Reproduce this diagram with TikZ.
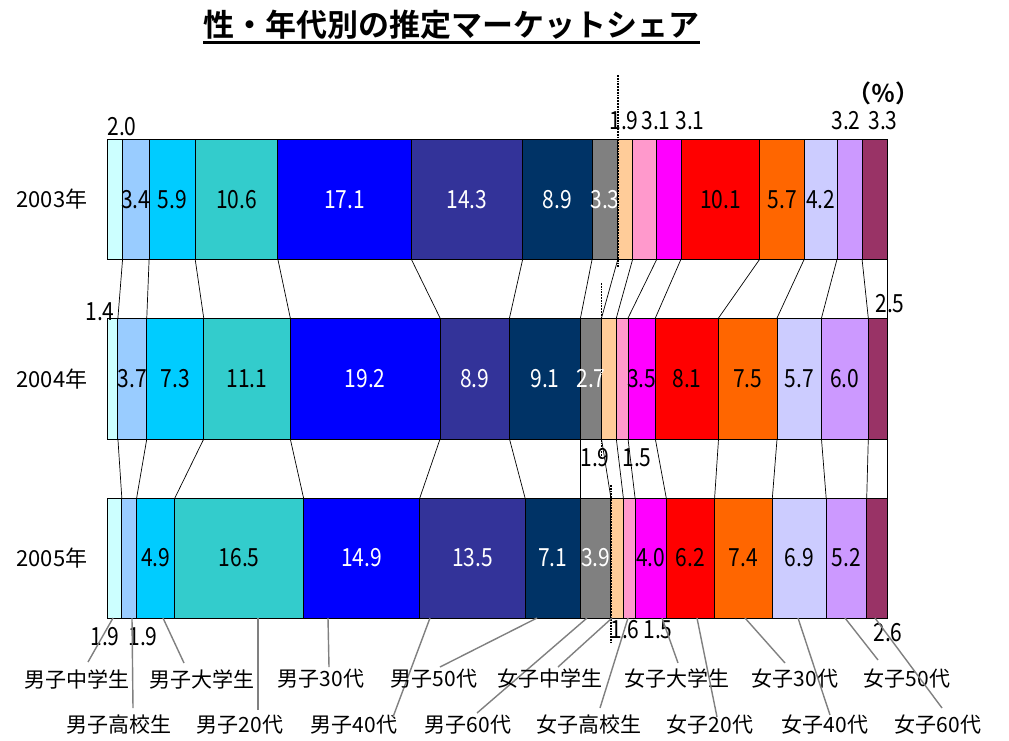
\documentclass[tikz,border=0pt]{standalone}
\usepackage{fontspec}
\setmainfont{Noto Sans CJK JP}
\newfontfamily\numfont{Noto Sans CJK JP}[FakeStretch=0.84]
\newfontfamily\titlefont{Noto Sans CJK JP Bold}

\definecolor{mjhs}{HTML}{CCFFFF}
\definecolor{mshs}{HTML}{99CCFF}
\definecolor{muni}{HTML}{00CCFF}
\definecolor{m20}{HTML}{33CCCC}
\definecolor{m30}{HTML}{0000FF}
\definecolor{m40}{HTML}{333399}
\definecolor{m50}{HTML}{003366}
\definecolor{m60}{HTML}{808080}
\definecolor{fjhs}{HTML}{FFCC99}
\definecolor{fshs}{HTML}{FF99CC}
\definecolor{funi}{HTML}{FF00FF}
\definecolor{f20}{HTML}{FF0000}
\definecolor{f30}{HTML}{FF6600}
\definecolor{f40}{HTML}{CCCCFF}
\definecolor{f50}{HTML}{CC99FF}
\definecolor{f60}{HTML}{993366}

\tikzset{
  segbox/.style={draw=black, line width=1pt},
  num/.style={font=\numfont\fontsize{25}{25}\selectfont, inner sep=0pt},
  yearlabel/.style={font=\fontsize{22}{22}\selectfont, inner sep=0pt},
  catlabel/.style={font=\fontsize{21}{21}\selectfont, inner sep=0pt},
  series/.style={line width=0.7pt},
  leader/.style={draw=gray, line width=1.4pt},
  divider/.style={densely dotted, line width=1.8pt}
}

\begin{document}
\begin{tikzpicture}[x=1pt, y=-1pt]
  \useasboundingbox[fill=white] (0,0) rectangle (1009,740);

  %%%%% title %%%%%
  \node[font=\titlefont\fontsize{31}{31}\selectfont, inner sep=0pt] (title) at (451.5,25) {性・年代別の推定マーケットシェア};
  \draw[line width=2.5pt] ([yshift=-2.5pt]title.south west) -- ([yshift=-2.5pt]title.south east);
  \node[font=\titlefont\fontsize{24}{24}\selectfont, inner sep=0pt] (pct) at (883,93) {（％）};

  %%%%% years %%%%%
  \node[yearlabel] (yr03) at (52,199) {2003年};
  \node[yearlabel] (yr04) at (52,379) {2004年};
  \node[yearlabel] (yr05) at (52,558) {2005年};

  \begin{scope}[shift={(107,0)}, x=7.8pt]
    % 2003
    \foreach \a/\b/\c [count=\i] in {0/2.0/mjhs, 2.0/5.4/mshs, 5.4/11.3/muni, 11.3/21.9/m20, 21.9/39.0/m30, 39.0/53.3/m40, 53.3/62.2/m50, 62.2/65.5/m60, 65.5/67.4/fjhs, 67.4/70.5/fshs, 70.5/73.6/funi, 73.6/83.7/f20, 83.7/89.4/f30, 89.4/93.6/f40, 93.6/96.8/f50, 96.8/100/f60}{
      \draw[segbox, fill=\c] (\a,139) rectangle (\b,259);
      \coordinate (y03b\i) at (\b,259);
    }
    % 2004
    \foreach \a/\b/\c [count=\i] in {0/1.4/mjhs, 1.4/5.1/mshs, 5.1/12.4/muni, 12.4/23.5/m20, 23.5/42.7/m30, 42.7/51.6/m40, 51.6/60.7/m50, 60.7/63.4/m60, 63.4/65.3/fjhs, 65.3/66.8/fshs, 66.8/70.3/funi, 70.3/78.4/f20, 78.4/85.9/f30, 85.9/91.6/f40, 91.6/97.6/f50, 97.6/100/f60}{
      \draw[segbox, fill=\c] (\a,318) rectangle (\b,439);
      \coordinate (y04t\i) at (\b,318);
      \coordinate (y04b\i) at (\b,439);
    }
    % 2005
    \foreach \a/\b/\c [count=\i] in {0/1.9/mjhs, 1.9/3.8/mshs, 3.8/8.7/muni, 8.7/25.2/m20, 25.2/40.1/m30, 40.1/53.6/m40, 53.6/60.7/m50, 60.7/64.6/m60, 64.6/66.2/fjhs, 66.2/67.7/fshs, 67.7/71.7/funi, 71.7/77.9/f20, 77.9/85.3/f30, 85.3/92.2/f40, 92.2/97.4/f50, 97.4/100/f60}{
      \draw[segbox, fill=\c] (\a,498) rectangle (\b,618);
      \coordinate (y05t\i) at (\b,498);
    }

    % values inside the bars
    \foreach \a/\b/\v/\t [count=\i] in {2.0/5.4/3.4/black, 5.4/11.3/5.9/black, 11.3/21.9/10.6/black, 21.9/39.0/17.1/white, 39.0/53.3/14.3/white, 53.3/62.2/8.9/white, 62.2/65.5/3.3/white, 73.6/83.7/10.1/black, 83.7/89.4/5.7/black, 89.4/93.6/4.2/black}
      \node[num, text=\t] (v03-\i) at ({(\a+\b)/2},200) {\v};
    \foreach \a/\b/\v/\t [count=\i] in {1.4/5.1/3.7/black, 5.1/12.4/7.3/black, 12.4/23.5/11.1/black, 23.5/42.7/19.2/white, 42.7/51.6/8.9/white, 51.6/60.7/9.1/white, 60.7/63.4/2.7/white, 66.8/70.3/3.5/black, 70.3/78.4/8.1/black, 78.4/85.9/7.5/black, 85.9/91.6/5.7/black, 91.6/97.6/6.0/black}
      \node[num, text=\t] (v04-\i) at ({(\a+\b)/2},379) {\v};
    \foreach \a/\b/\v/\t [count=\i] in {3.8/8.7/4.9/black, 8.7/25.2/16.5/black, 25.2/40.1/14.9/white, 40.1/53.6/13.5/white, 53.6/60.7/7.1/white, 60.7/64.6/3.9/white, 67.7/71.7/4.0/black, 71.7/77.9/6.2/black, 77.9/85.3/7.4/black, 85.3/92.2/6.9/black, 92.2/97.4/5.2/black}
      \node[num, text=\t] (v05-\i) at ({(\a+\b)/2},558) {\v};

    % male / female split
    \draw[divider] (65.5,75) -- (65.5,268);
    \draw[divider] (63.4,283) -- (63.4,457);
    \draw[divider] (64.6,485) -- (64.6,642);
  \end{scope}

  % series lines
  \foreach \i in {1,...,16}{
    \draw[series] (y03b\i) -- (y04t\i);
    \draw[series] (y04b\i) -- (y05t\i);
  }

  % small values outside the bars
  \node[num] (o03-1) at (122,127) {2.0};
  \node[num] (o03-2) at (624,121) {1.9};
  \node[num] (o03-3) at (656,121) {3.1};
  \node[num] (o03-4) at (690,121) {3.1};
  \node[num] (o03-5) at (846,121) {3.2};
  \node[num] (o03-6) at (883,121) {3.3};
  \node[num] (o04-1) at (100,312) {1.4};
  \node[num] (o04-2) at (890,304) {2.5};
  \node[num] (o04-3) at (595,458) {1.9};
  \node[num] (o04-4) at (637,458) {1.5};
  \node[num] (o05-1) at (105,637) {1.9};
  \node[num] (o05-2) at (143,637) {1.9};
  \node[num] (o05-3) at (625,630) {1.6};
  \node[num] (o05-4) at (658,630) {1.5};
  \node[num] (o05-5) at (888,633) {2.6};

  %%%%% legend labels %%%%%
  \foreach \sx/\lx/\ly/\ex/\ey/\t [count=\i] in {
      113/77/679/88/662/男子中学生, 132/119/725/133/708/男子高校生,
      163/202/679/184/663/男子大学生, 258/240/725/258/710/男子20代,
      328/321/679/329/667/男子30代, 430/354/725/393/717/男子40代,
      537/434/679/440/667/男子50代, 587/468/725/477/713/男子60代,
      612/550/679/558/667/女子中学生, 628/589/725/600/708/女子高校生,
      662/677/679/678/663/女子大学生, 697/710/725/717/717/女子20代,
      745/795/679/785/663/女子30代, 798/825/725/830/715/女子40代,
      845/907/679/878/660/女子50代, 875/938/725/942/708/女子60代}{
    \node[catlabel] (lab\i) at (\lx,\ly) {\t};
    \coordinate (s\i) at (\sx,618);
    \coordinate (e\i) at (\ex,\ey);
    \draw[leader] (s\i) -- (e\i);
  }
\end{tikzpicture}
\end{document}
